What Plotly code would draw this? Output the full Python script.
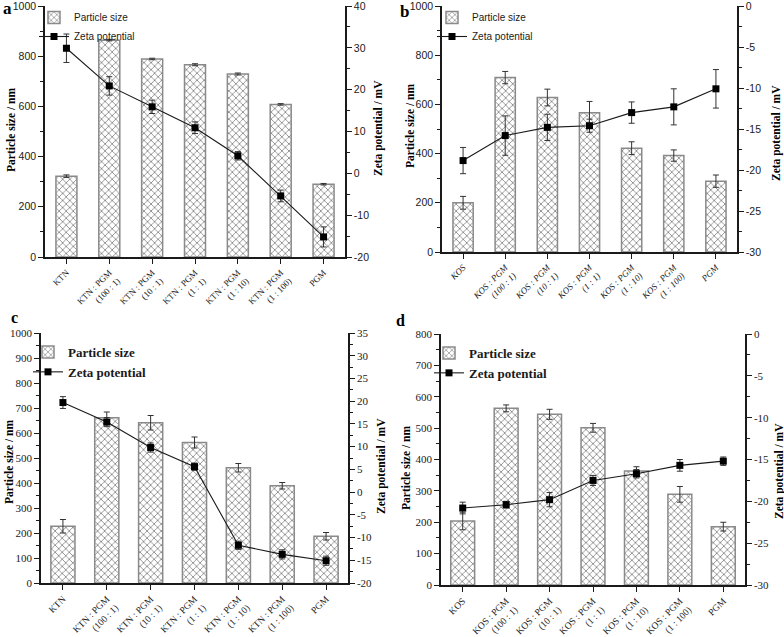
import plotly.graph_objects as go

W, H = 784, 637

# ---------------- data ----------------
cats_ktn = ["KTN", "KTN : PGM<br>(100 : 1)", "KTN : PGM<br>(10 : 1)", "KTN : PGM<br>(1 : 1)",
            "KTN : PGM<br>(1 : 10)", "KTN : PGM<br>(1 : 100)", "PGM"]
cats_kos_i = ["<i>KOS</i>", "<i>KOS : PGM</i><br><i>(100 : 1)</i>", "<i>KOS : PGM</i><br><i>(10 : 1)</i>",
              "<i>KOS : PGM</i><br><i>(1 : 1)</i>", "<i>KOS : PGM</i><br><i>(1 : 10)</i>",
              "<i>KOS : PGM</i><br><i>(1 : 100)</i>", "<i>PGM</i>"]
cats_kos = ["KOS", "KOS : PGM<br>(100 : 1)", "KOS : PGM<br>(10 : 1)", "KOS : PGM<br>(1 : 1)",
            "KOS : PGM<br>(1 : 10)", "KOS : PGM<br>(1 : 100)", "PGM"]

a_size = [322, 864, 789, 766, 729, 608, 290]
a_size_err = [5, 3, 3, 4, 4, 3, 3]
a_zeta = [29.9, 20.9, 15.9, 10.9, 4.2, -5.4, -15.2]
a_zeta_err = [3.4, 2.2, 1.6, 1.4, 1.0, 1.4, 2.4]

b_size = [200, 709, 628, 566, 422, 392, 288]
b_size_err = [26, 25, 34, 46, 26, 23, 25]
b_zeta = [-18.85, -15.8, -14.8, -14.6, -13.0, -12.3, -10.1]
b_zeta_err = [1.6, 2.4, 1.6, 0.8, 1.3, 2.2, 2.35]

c_size = [227, 661, 641, 562, 461, 389, 187]
c_size_err = [27, 23, 29, 22, 17, 13, 15]
c_zeta = [19.7, 15.4, 9.8, 5.6, -11.7, -13.7, -15.1]
c_zeta_err = [1.3, 1.0, 1.0, 0.8, 0.9, 1.0, 1.0]

d_size = [204, 563, 544, 501, 363, 289, 186]
d_size_err = [28, 11, 16, 14, 14, 25, 14]
d_zeta = [-20.8, -20.4, -19.8, -17.5, -16.7, -15.7, -15.2]
d_zeta_err = [0.7, 0.4, 0.85, 0.6, 0.5, 0.7, 0.5]

# tick values
a_left_ticks = [0, 200, 400, 600, 800, 1000]
a_right_ticks = [-20, -10, 0, 10, 20, 30, 40]
b_left_ticks = [0, 200, 400, 600, 800, 1000]
b_right_ticks = [-30, -25, -20, -15, -10, -5, 0]
c_left_ticks = [0, 100, 200, 300, 400, 500, 600, 700, 800, 900, 1000]
c_right_ticks = [-20, -15, -10, -5, 0, 5, 10, 15, 20, 25, 30, 35]
d_left_ticks = [0, 100, 200, 300, 400, 500, 600, 700, 800]
d_right_ticks = [-30, -25, -20, -15, -10, -5, 0]

SANS = "Liberation Sans, Arial, sans-serif"
SERIF = "Liberation Serif, Times New Roman, serif"
INK = "#1a1a1a"

panels = [
    dict(letter="a", cats=cats_ktn, size=a_size, size_err=a_size_err, zeta=a_zeta, zeta_err=a_zeta_err,
         lt=a_left_ticks, rt=a_right_ticks, lminor=100, rminor=5,
         xd=(45, 345), yd=(6, 257), tickfont=SANS, ticksize=10.5, catsize=9, bw=0.49, top=False, topminor=False,
         leg=(34, 3), legfont=dict(family=SANS, size=10, color=INK),
         letpos=(1, 9), letsize=17, ltitle=(11, 130), rtitle=(379, 128)),
    dict(letter="b", cats=cats_kos_i, size=b_size, size_err=b_size_err, zeta=b_zeta, zeta_err=b_zeta_err,
         lt=b_left_ticks, rt=b_right_ticks, lminor=100, rminor=2.5,
         xd=(442, 737), yd=(6, 252), tickfont=SANS, ticksize=10.5, catsize=9, bw=0.48, top=True, topminor=False,
         leg=(432, 3), legfont=dict(family=SANS, size=10, color=INK),
         letpos=(398, 11), letsize=17, ltitle=(410, 126), rtitle=(776, 133)),
    dict(letter="c", cats=cats_ktn, size=c_size, size_err=c_size_err, zeta=c_zeta, zeta_err=c_zeta_err,
         lt=c_left_ticks, rt=c_right_ticks, lminor=50, rminor=2.5,
         xd=(41, 348), yd=(333, 583), tickfont=SERIF, ticksize=11, catsize=9.5, bw=0.55, top=True, topminor=True,
         leg=(28, 337), legfont=dict(family=SERIF, size=13, color=INK, weight="bold"),
         letpos=(9, 317), letsize=16, ltitle=(9, 462), rtitle=(381, 466)),
    dict(letter="d", cats=cats_kos, size=d_size, size_err=d_size_err, zeta=d_zeta, zeta_err=d_zeta_err,
         lt=d_left_ticks, rt=d_right_ticks, lminor=50, rminor=2.5,
         xd=(441, 745), yd=(334, 585), tickfont=SERIF, ticksize=11, catsize=9.5, bw=0.55, top=True, topminor=True,
         leg=(429, 338), legfont=dict(family=SERIF, size=13, color=INK, weight="bold"),
         letpos=(394, 320), letsize=16, ltitle=(406, 468), rtitle=(779, 471)),
]

fig = go.Figure()
layout = dict(width=W, height=H, margin=dict(l=0, r=0, t=0, b=0),
              paper_bgcolor="white", plot_bgcolor="white", showlegend=True, annotations=[])

top_axis_idx = 5
for i, p in enumerate(panels):
    n = i + 1
    xname = "x" if n == 1 else f"x{n}"
    yl = 2 * i + 1
    yr = 2 * i + 2
    ylname = "y" if yl == 1 else f"y{yl}"
    yrname = f"y{yr}"
    legname = "legend" if n == 1 else f"legend{n}"
    pos = list(range(len(p["cats"])))

    fig.add_trace(go.Bar(
        x=pos, y=p["size"], name="Particle size", xaxis=xname, yaxis=ylname, width=p["bw"],
        legend=legname,
        marker=dict(color="white", line=dict(color="#8a8a8a", width=1.5),
                    pattern=dict(shape="x", fgcolor="#1a1a1a", bgcolor="white", size=5, solidity=0.32)),
        error_y=dict(type="data", array=p["size_err"], color="#333", thickness=1, width=3),
    ))
    fig.add_trace(go.Scatter(
        x=pos, y=p["zeta"], name="Zeta potential", xaxis=xname, yaxis=yrname, mode="lines+markers",
        legend=legname,
        line=dict(color=INK, width=1.1), marker=dict(symbol="square", size=7, color="black"),
        error_y=dict(type="data", array=p["zeta_err"], color="#333", thickness=1, width=3),
    ))

    xd = [p["xd"][0] / W, p["xd"][1] / W]
    yd = [1 - p["yd"][1] / H, 1 - p["yd"][0] / H]
    xkey = "xaxis" if n == 1 else f"xaxis{n}"
    ylkey = "yaxis" if yl == 1 else f"yaxis{yl}"
    yrkey = f"yaxis{yr}"

    layout[xkey] = dict(domain=xd, anchor=ylname, range=[-0.5, len(pos) - 0.5],
                        tickmode="array", tickvals=pos, ticktext=p["cats"], tickangle=-45,
                        tickfont=dict(family=SERIF, size=p["catsize"], color=INK),
                        ticks="outside", ticklen=5, tickwidth=1, tickcolor=INK,
                        showline=True, linecolor=INK, linewidth=1.5, showgrid=False, zeroline=False,
                        automargin=False, ticklabeloverflow="allow")
    layout[ylkey] = dict(domain=yd, anchor=xname, range=[p["lt"][0], p["lt"][-1]],
                         tickmode="array", tickvals=p["lt"], ticktext=[str(v) for v in p["lt"]],
                         tickfont=dict(family=p["tickfont"], size=p["ticksize"], color=INK),
                         ticks="outside", ticklen=5, tickwidth=1, tickcolor=INK,
                         minor=dict(dtick=p["lminor"], tick0=0, ticks="outside", ticklen=3, tickcolor=INK, showgrid=False),
                         showline=True, linecolor=INK, linewidth=1.5, showgrid=False, zeroline=False,
                         automargin=False, ticklabeloverflow="allow")
    layout[yrkey] = dict(overlaying=ylname, side="right", anchor=xname, range=[p["rt"][0], p["rt"][-1]],
                         tickmode="array", tickvals=p["rt"], ticktext=[str(v) for v in p["rt"]],
                         tickfont=dict(family=p["tickfont"], size=p["ticksize"], color=INK),
                         ticks="outside", ticklen=5, tickwidth=1, tickcolor=INK,
                         minor=dict(dtick=p["rminor"], tick0=0, ticks="outside", ticklen=3, tickcolor=INK, showgrid=False),
                         showline=True, linecolor=INK, linewidth=1.5, showgrid=False, zeroline=False,
                         automargin=False, ticklabeloverflow="allow")
    if p["top"]:
        tkey = f"xaxis{top_axis_idx}"
        tdict = dict(overlaying=xname, side="top", anchor=ylname, range=[-0.5, len(pos) - 0.5],
                     tickmode="array", tickvals=pos, showticklabels=False,
                     ticks="inside", ticklen=5, tickwidth=1, tickcolor=INK,
                     showline=True, linecolor=INK, linewidth=1.5, showgrid=False, zeroline=False,
                     automargin=False)
        if p["topminor"]:
            tdict["minor"] = dict(tickvals=[v + 0.5 for v in pos[:-1]], ticks="inside", ticklen=3,
                                  tickcolor=INK, showgrid=False)
        layout[tkey] = tdict
        top_axis_idx += 1

    layout[legname] = dict(x=p["leg"][0] / W, y=1 - p["leg"][1] / H, xanchor="left", yanchor="top",
                           bgcolor="rgba(0,0,0,0)", font=p["legfont"], tracegroupgap=0,
                           itemwidth=30, traceorder="normal")

    layout["annotations"].append(dict(
        text=f"<b>{p['letter']}</b>", x=p["letpos"][0] / W, y=1 - p["letpos"][1] / H,
        xref="paper", yref="paper", showarrow=False, xanchor="left", yanchor="middle",
        font=dict(family=SERIF, size=p["letsize"], color="black")))
    layout["annotations"].append(dict(
        text="<b>Particle size / nm</b>", x=p["ltitle"][0] / W, y=1 - p["ltitle"][1] / H,
        xref="paper", yref="paper", showarrow=False, textangle=-90, xanchor="center", yanchor="middle",
        font=dict(family=SERIF, size=11.5, color="black")))
    layout["annotations"].append(dict(
        text="<b>Zeta potential / mV</b>", x=p["rtitle"][0] / W, y=1 - p["rtitle"][1] / H,
        xref="paper", yref="paper", showarrow=False, textangle=-90, xanchor="center", yanchor="middle",
        font=dict(family=SERIF, size=11.5, color="black")))

fig.update_layout(**layout)
fig.write_html("out.html", config={"displayModeBar": False},
               post_script="document.body.style.margin='0';document.body.style.overflow='hidden';")
